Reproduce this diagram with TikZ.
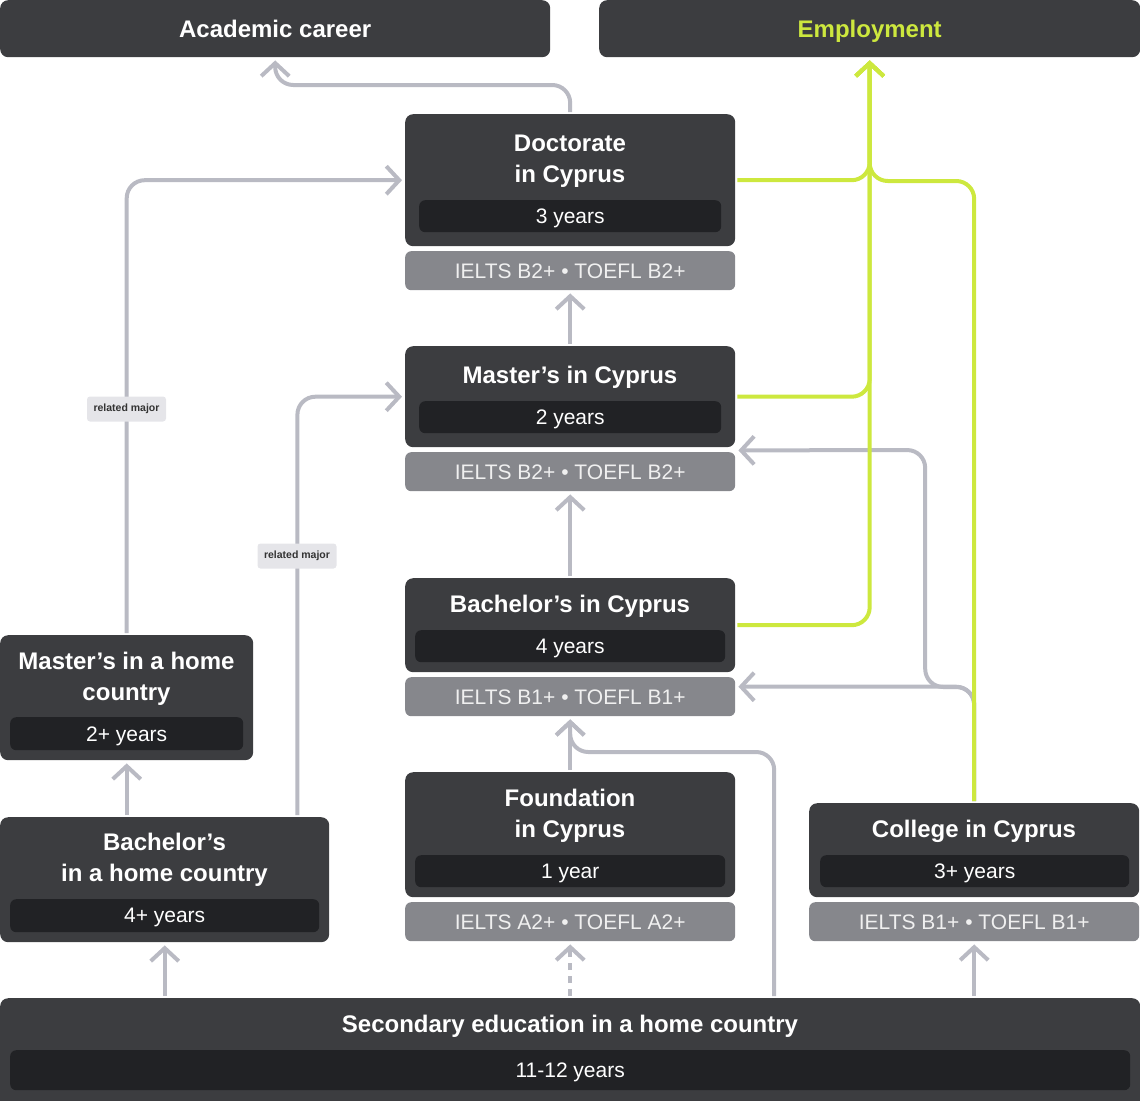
\documentclass[tikz,border=0pt]{standalone}
\usepackage{fontspec}
\setmainfont{Liberation Sans}
\usetikzlibrary{arrows.meta,positioning}
\definecolor{boxgray}{HTML}{3C3D40}
\definecolor{bargray}{HTML}{212225}
\definecolor{reqgray}{HTML}{86878C}
\definecolor{linegray}{HTML}{B9BAC3}
\definecolor{limegreen}{HTML}{CDE83E}
\definecolor{taggray}{HTML}{E5E5E9}

\begin{document}
\begin{tikzpicture}[x=1pt,y=-1pt,>={Straight Barb[length=13pt,width=28pt]}]
\tikzstyle{box}=[fill=boxgray,rounded corners=8pt,anchor=north west,inner sep=0pt,text=white,font=\fontsize{24}{31}\selectfont\bfseries,text depth=0pt]
\tikzstyle{title}=[text=white,font=\fontsize{24}{31}\selectfont\bfseries,align=center,text depth=0pt,inner sep=0pt]
\tikzstyle{bar}=[fill=bargray,rounded corners=6pt,anchor=north west,inner sep=0pt,text=white,font=\fontsize{21}{25}\selectfont,text depth=0pt]
\tikzstyle{req}=[fill=reqgray,rounded corners=6pt,anchor=north west,inner sep=0pt,text=white!94!black,font=\fontsize{21}{25}\selectfont,text depth=0pt,minimum width=330pt,minimum height=39pt]
\tikzstyle{tag}=[fill=taggray,rounded corners=3pt,inner sep=0pt,minimum width=79pt,minimum height=25pt,text=black!80,font=\fontsize{10.5}{12}\selectfont\bfseries]
\tikzstyle{gline}=[->,draw=linegray,line width=4pt,rounded corners=18pt,shorten >=3pt,shorten <=2pt]
\tikzstyle{lline}=[->,draw=limegreen,line width=4pt,rounded corners=18pt,shorten >=3pt,shorten <=2pt]
\clip (0,0) rectangle (1140,1100);

% goals
\node[box,minimum width=550pt,minimum height=57pt] (acad) at (0,0) {Academic career};
\node[box,minimum width=541pt,minimum height=57pt,text=limegreen] (empl) at (599,0) {Employment};

% studies in Cyprus
\node[box,minimum width=330pt,minimum height=132pt] (doc) at (405,114) {};
\node[title] (doct) at (570,158.5) {Doctorate\\in Cyprus};
\node[bar,minimum width=302pt,minimum height=32pt] (docyrs) at (419,200) {3 years};
\node[req] (docreq) at (405,251) {IELTS B2+ • TOEFL B2+};

\node[box,minimum width=330pt,minimum height=101pt] (mas) at (405,346) {};
\node[title] (mast) at (570,375) {Master’s in Cyprus};
\node[bar,minimum width=302pt,minimum height=32pt] (masyrs) at (419,401) {2 years};
\node[req] (masreq) at (405,452) {IELTS B2+ • TOEFL B2+};

\node[box,minimum width=330pt,minimum height=94pt] (bac) at (405,578) {};
\node[title] (bact) at (570,604) {Bachelor’s in Cyprus};
\node[bar,minimum width=310pt,minimum height=32pt] (bacyrs) at (415,630) {4 years};
\node[req] (bacreq) at (405,677) {IELTS B1+ • TOEFL B1+};

\node[box,minimum width=330pt,minimum height=125pt] (fnd) at (405,772) {};
\node[title] (fndt) at (570,813.5) {Foundation\\in Cyprus};
\node[bar,minimum width=310pt,minimum height=32pt] (fndyrs) at (415,855) {1 year};
\node[req] (fndreq) at (405,902) {IELTS A2+ • TOEFL A2+};

\node[box,minimum width=330pt,minimum height=94pt] (col) at (809,803) {};
\node[title] (colt) at (974,829) {College in Cyprus};
\node[bar,minimum width=309pt,minimum height=32pt] (colyrs) at (820,855) {3+ years};
\node[req] (colreq) at (809,902) {IELTS B1+ • TOEFL B1+};

% home country
\node[box,minimum width=253pt,minimum height=125pt] (mhome) at (0,635) {};
\node[title] (mhomet) at (126.5,676.5) {Master’s in a home\\country};
\node[bar,minimum width=233pt,minimum height=33pt] (mhomeyrs) at (10,717) {2+ years};

\node[box,minimum width=329pt,minimum height=125pt] (bhome) at (0,817) {};
\node[title] (bhomet) at (164.5,857.5) {Bachelor’s\\in a home country};
\node[bar,minimum width=309pt,minimum height=33pt] (bhomeyrs) at (10,899) {4+ years};

\node[box,minimum width=1140pt,minimum height=112pt] (sec) at (0,998) {};
\node[title] (sect) at (570,1024) {Secondary education in a home country};
\node[bar,minimum width=1120pt,minimum height=40pt] (secyrs) at (10,1050) {11-12 years};

% grey paths
\draw[gline] (doc.north) -- ++(0,-29) -| (acad.south);
\draw[gline] (mhome.north) |- (doc.west);
\draw[gline] ([xshift=-32pt]bhome.north east) |- (mas.west);
\draw[gline] (mas.north) -- (docreq.south);
\draw[gline] (bac.north) -- (masreq.south);
\draw[gline] (fnd.north) -- (bacreq.south);
\draw[gline] ([xshift=204pt]sec.north) -- ++(0,-246) -| (bacreq.south);
\draw[gline,dash pattern=on 7pt off 6pt] (sec.north) -- (fndreq.south);
\draw[gline] (sec.north -| bhome.south) -- (bhome.south);
\draw[gline] (sec.north -| colreq.south) -- (colreq.south);
\draw[gline] (bhome.north -| mhome.south) -- (mhome.south);
\draw[gline] (col.north) |- ([yshift=10pt]bacreq.east);
\draw[gline] (col.north) -- ++(0,-116) -- ++(-49,0) -- ++(0,-237) -- ([yshift=-3pt]mas.south east);

% employment paths
\draw[lline] (col.north) -- ++(0,-622) -| (empl.south);
\draw[lline] (doc.east) -| (empl.south);
\draw[lline] (mas.east) -| (empl.south);
\draw[lline] (bac.east) -| (empl.south);

\node[tag] (tag1) at (126.5,409) {related major};
\node[tag] (tag2) at (297,556) {related major};
\end{tikzpicture}
\end{document}
